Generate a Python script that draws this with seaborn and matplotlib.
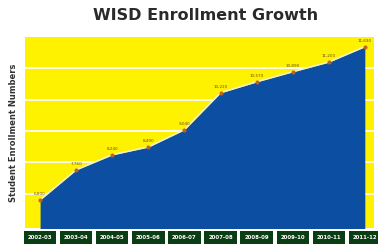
import matplotlib
matplotlib.use("Agg")
import matplotlib.pyplot as plt
import seaborn as sns
import pandas as pd

years = ["2002-03", "2003-04", "2004-05", "2005-06", "2006-07",
         "2007-08", "2008-09", "2009-10", "2010-11", "2011-12"]
enrollment = [6800, 7760, 8240, 8490, 9040, 10220, 10570, 10890, 11200, 11690]

yellow = "#fff200"
blue = "#0b4ea2"
green = "#0b3d14"

sns.set_style("white", {"axes.facecolor": yellow})
plt.rcParams["font.family"] = ["DejaVu Sans"]

df = pd.DataFrame({"year": years, "enrollment": enrollment})
df["pos"] = range(len(df))

fig = plt.figure(figsize=(3.78, 2.45), dpi=100)
ax = fig.add_axes([0.066, 0.069, 0.923, 0.78])

for g in [7000, 8000, 9000, 10000, 11000]:
    ax.axhline(g, color="white", lw=1.3, zorder=1)

ax.fill_between(df["pos"], df["enrollment"], 5000, color=blue, zorder=2, lw=0)
sns.lineplot(data=df, x="pos", y="enrollment", ax=ax, color="#f4f0c0", lw=1.2,
             marker="o", markersize=2.2, markerfacecolor="#c0641a",
             markeredgecolor="#c0641a", zorder=3)

for x, y in zip(df["pos"], df["enrollment"]):
    ax.text(x, y + 130, f"{y:,}", fontsize=3, color="#6b4a1a",
            ha="center", va="bottom", zorder=4)

ax.set_xlim(-0.42, 9.25)
ax.set_ylim(5900, 12000)
ax.set_yticks([])
ax.set_xticks(df["pos"])
ax.set_xticklabels(years, fontsize=3.9, color="white", fontweight="bold")
for lab in ax.get_xticklabels():
    lab.set_bbox(dict(facecolor=green, edgecolor="none", boxstyle="square,pad=0.7"))
ax.tick_params(axis="x", length=0, pad=5)
ax.set_xlabel("")
ax.set_ylabel("Student Enrollment Numbers", fontsize=6, fontweight="bold",
              color="#333333", labelpad=5)
for s in ax.spines.values():
    s.set_visible(False)

fig.text(0.545, 0.935, "WISD Enrollment Growth", fontsize=11.5, fontweight="bold",
         color="#2a2a2a", ha="center", va="center")

fig.savefig("out.png", dpi=100)
